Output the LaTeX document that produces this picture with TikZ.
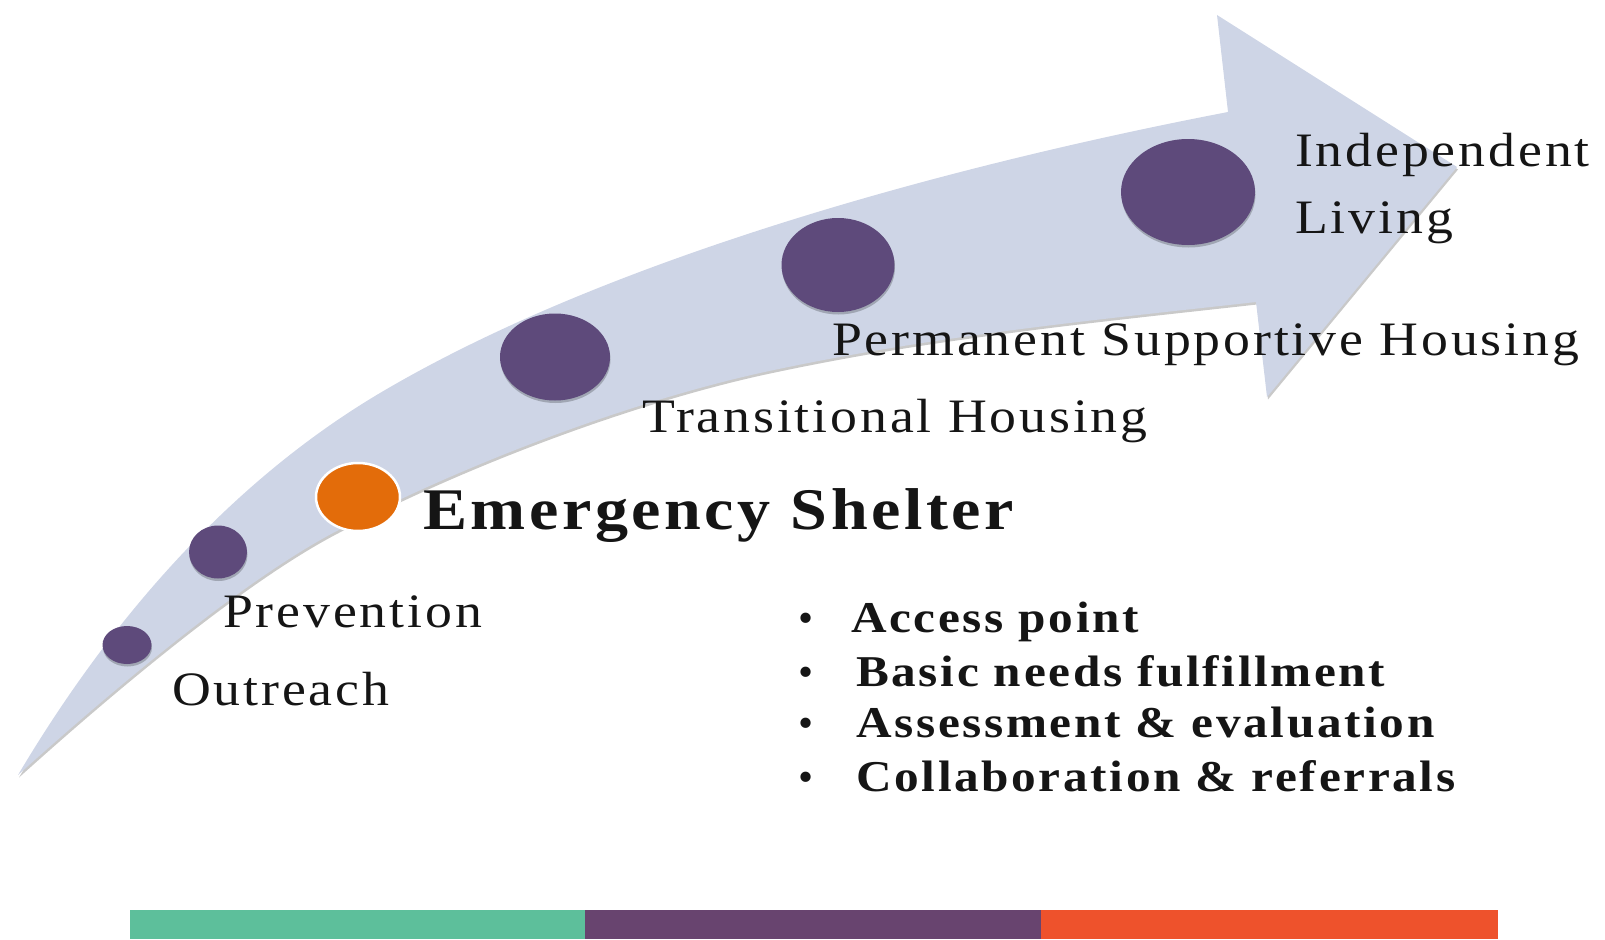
\documentclass[tikz,border=0pt]{standalone}
\usepackage{fontspec}
\setmainfont{Liberation Serif}
\newfontfamily\lblfont[LetterSpace=6, FakeStretch=1.12]{Liberation Serif}
\usetikzlibrary{shapes.geometric,shadows}
\definecolor{bandfill}{HTML}{CED5E6}
\definecolor{dotpurple}{HTML}{5E4A7B}
\definecolor{dotorange}{HTML}{E36C0A}
\definecolor{bargreen}{HTML}{5DBF9B}
\definecolor{barpurple}{HTML}{68446F}
\definecolor{barred}{HTML}{EE522C}
\definecolor{ink}{HTML}{151515}
\begin{document}
\begin{tikzpicture}[x=1pt,y=-1pt,
  dot/.style={ellipse, fill=dotpurple, inner sep=0pt,
    drop shadow={shadow xshift=0.5pt, shadow yshift=-2.5pt, opacity=0.22, fill=black}},
  esdot/.style={ellipse, fill=dotorange, draw=white, line width=2.5pt, inner sep=0pt},
  lbl/.style={anchor=base west, inner sep=0pt, text=ink, font=\lblfont\fontsize{48}{58}\selectfont},
  eslbl/.style={lbl, font=\lblfont\bfseries\fontsize{59}{70}\selectfont},
  itemlbl/.style={lbl, font=\lblfont\bfseries\fontsize{44}{52}\selectfont},
  bulletmark/.style={anchor=base, inner sep=0pt, text=ink, font=\fontsize{43}{52}\selectfont}]
\useasboundingbox (0,0) rectangle (1605,939);

% curved arrow
\fill[bandfill, drop shadow={shadow xshift=1pt, shadow yshift=-2.5pt, opacity=0.3, fill=black!70}]
  (18,775) .. controls (110,620) and (230,482) .. (380,393)
  .. controls (620,251) and (978,160) .. (1228,112)
  -- (1217,15) -- (1457,167) -- (1267,397) -- (1256,302)
  .. controls (1086,321) and (930,336) .. (760,373)
  .. controls (630,402) and (463,464) .. (333,533)
  .. controls (243,581) and (118,685) .. (18,775)
  -- cycle;

% stage dots
\node[dot, minimum width=49pt, minimum height=38pt] (outreachdot) at (127,645) {};
\node[dot, minimum width=58pt, minimum height=53pt] (preventiondot) at (218,552) {};
\node[esdot, minimum width=84pt, minimum height=68pt] (esdot) at (358,497) {};
\node[dot, minimum width=110pt, minimum height=87pt] (thdot) at (555,357) {};
\node[dot, minimum width=113pt, minimum height=94pt] (pshdot) at (838,265) {};
\node[dot, minimum width=134pt, minimum height=106pt] (ildot) at (1188,192) {};

% labels
\node[lbl] (outreach) at (172,705) {Outreach};
\node[lbl] (prevention) at (223,627) {Prevention};
\node[eslbl] (es) at (423,529) {Emergency Shelter};
\node[lbl] (th) at (642,432) {Transitional Housing};
\node[lbl] (psh) at (832,355) {Permanent Supportive Housing};
\node[lbl] (indep) at (1295,166) {Independent};
\node[lbl] (living) at (1295,233) {Living};

% bullet list
\node[bulletmark] (b1) at (806,632) {\textbullet};
\node[itemlbl] (i1) at (851,632) {Access point};
\node[bulletmark] (b2) at (806,686) {\textbullet};
\node[itemlbl] (i2) at (856,686) {Basic needs fulfillment};
\node[bulletmark] (b3) at (806,737) {\textbullet};
\node[itemlbl] (i3) at (856,737) {Assessment \& evaluation};
\node[bulletmark] (b4) at (806,791) {\textbullet};
\node[itemlbl] (i4) at (856,791) {Collaboration \& referrals};

% bottom bar
\fill[bargreen] (130,910) rectangle (586,939);
\fill[barpurple] (585,910) rectangle (1042,939);
\fill[barred] (1041,910) rectangle (1498,939);
\end{tikzpicture}
\end{document}
